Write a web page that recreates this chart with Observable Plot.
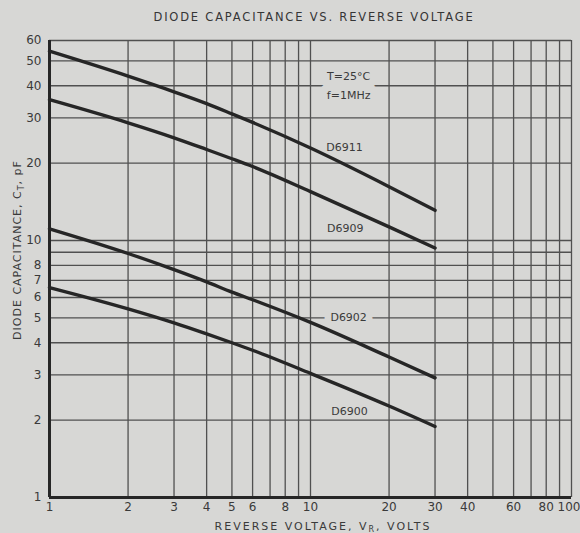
<!DOCTYPE html>
<html>
<head>
<meta charset="utf-8">
<script src="https://cdn.jsdelivr.net/npm/d3@7"></script>
<script src="https://cdn.jsdelivr.net/npm/@observablehq/plot@0.6"></script>
<style>
  html, body { margin: 0; padding: 0; background: #d7d7d5; }
  #wrap { width: 580px; height: 533px; overflow: hidden; font-family: "DejaVu Sans", sans-serif; color: #3c3c3c; }
  #title { height: 30px; position: relative; }
  #title span { position: absolute; top: 11px; left: 0; width: 628px; text-align: center; font-size: 11.5px; letter-spacing: 1.8px; line-height: 12px; color: #353535; }
  svg { display: block; }
</style>
</head>
<body>
<div id="wrap">
  <div id="title"><span>DIODE CAPACITANCE VS. REVERSE VOLTAGE</span></div>
  <div id="chart"></div>
</div>
<script>
// Reverse voltage (V) at which capacitances are read
const voltage = [1, 2, 3, 4, 5, 6, 10, 20, 30];
// Capacitance C_T (pF) per diode type
const d6911 = [54.5, 43.6, 37.9, 34.1, 31.1, 28.8, 22.9, 16.2, 13.1];
const d6909 = [35.3, 28.7, 25.1, 22.6, 20.8, 19.4, 15.5, 11.3, 9.35];
const d6902 = [11.1, 8.9, 7.7, 6.9, 6.3, 5.88, 4.8, 3.52, 2.92];
const d6900 = [6.56, 5.42, 4.78, 4.33, 4.0, 3.74, 3.04, 2.27, 1.89];
const seriesNames = ["D6911", "D6909", "D6902", "D6900"];
const seriesValues = [d6911, d6909, d6902, d6900];
// Curve label anchors (data units)
const labelVoltage = [13.5, 13.6, 14.0, 14.1];
const labelCap = [23.1, 11.1, 5.0, 2.17];
const labelHalo = [false, false, true, false];
// Conditions note
const noteLines = ["T=25°C", "f=1MHz"];
const noteVoltage = [14.0, 14.0];
const noteCap = [43.4, 36.6];
// Grid and tick labels
const xGrid = [1, 2, 3, 4, 5, 6, 7, 8, 9, 10, 20, 30, 40, 50, 60, 70, 80, 90, 100];
const yGrid = [1, 2, 3, 4, 5, 6, 7, 8, 9, 10, 20, 30, 40, 50, 60];
const xTickLabels = [1, 2, 3, 4, 5, 6, 8, 10, 20, 30, 40, 60, 80, 100];
const yTickLabels = [1, 2, 3, 4, 5, 6, 7, 8, 10, 20, 30, 40, 50, 60];

const curveData = seriesNames.flatMap((name, i) =>
  voltage.map((v, j) => ({name, v, c: seriesValues[i][j]})));
const labelData = seriesNames.map((name, i) => ({name, v: labelVoltage[i], c: labelCap[i], halo: labelHalo[i]}));
const noteData = noteLines.map((t, i) => ({t, v: noteVoltage[i], c: noteCap[i]}));
const xMax = xTickLabels[xTickLabels.length - 1];

const bg = "#d7d7d5";
const ink = "#262626";
const gridInk = "#505050";
const textInk = "#3a3a3a";

const chart = Plot.plot({
  width: 580,
  height: 503,
  marginTop: 10,
  marginBottom: 36,
  marginLeft: 49,
  marginRight: 9,
  style: {background: "transparent", fontFamily: "DejaVu Sans, sans-serif", fontSize: "12px", color: textInk},
  x: {type: "log", domain: [1, 100], axis: null},
  y: {type: "log", domain: [1, 60], axis: null},
  marks: [
    Plot.ruleX(xGrid, {stroke: gridInk, strokeWidth: 1.3}),
    Plot.ruleY(yGrid, {stroke: gridInk, strokeWidth: 1.3}),
    Plot.ruleX([1], {stroke: ink, strokeWidth: 3}),
    Plot.ruleY([1], {stroke: ink, strokeWidth: 3}),
    Plot.text(xTickLabels.filter(d => d !== xMax), {x: d => d, frameAnchor: "bottom", dy: 13, text: d => String(d), fill: textInk, fontSize: 12}),
    Plot.text([xMax], {x: d => d, frameAnchor: "bottom", dy: 13, dx: 9, textAnchor: "end", text: d => String(d), fill: textInk, fontSize: 12}),
    Plot.text(yTickLabels, {y: d => d, frameAnchor: "left", dx: -8, textAnchor: "end", text: d => String(d), fill: textInk, fontSize: 12}),
    Plot.line(curveData, {x: "v", y: "c", z: "name", stroke: ink, strokeWidth: 3.4, curve: "monotone-x"}),
    Plot.text(labelData.filter(d => d.halo), {x: "v", y: "c", text: "name", fill: textInk, stroke: bg, strokeWidth: 14, fontSize: 11, letterSpacing: 0.8}),
    Plot.text(labelData.filter(d => !d.halo), {x: "v", y: "c", text: "name", fill: textInk, fontSize: 11, letterSpacing: 0.8}),
    Plot.text(noteData, {x: "v", y: "c", text: "t", fill: textInk, stroke: bg, strokeWidth: 16, fontSize: 11})
  ]
});

document.getElementById("chart").appendChild(chart);

const svg = d3.select(chart);
// x-axis title
const xt = svg.append("text")
  .attr("x", 323).attr("y", 500)
  .attr("text-anchor", "middle")
  .attr("fill", textInk)
  .attr("font-size", 11)
  .attr("letter-spacing", "2px");
xt.append("tspan").text("REVERSE VOLTAGE, V");
xt.append("tspan").attr("font-size", 8).attr("dy", 1.5).text("R");
xt.append("tspan").attr("dy", -1.5).text(", VOLTS");

// y-axis title
const yt = svg.append("text")
  .attr("transform", "translate(21,220) rotate(-90)")
  .attr("text-anchor", "middle")
  .attr("fill", textInk)
  .attr("font-size", 11)
  .attr("letter-spacing", "1px");
yt.append("tspan").text("DIODE CAPACITANCE, C");
yt.append("tspan").attr("font-size", 8).attr("dy", 3).text("T");
yt.append("tspan").attr("dy", -3).text(", pF");
</script>
</body>
</html>
